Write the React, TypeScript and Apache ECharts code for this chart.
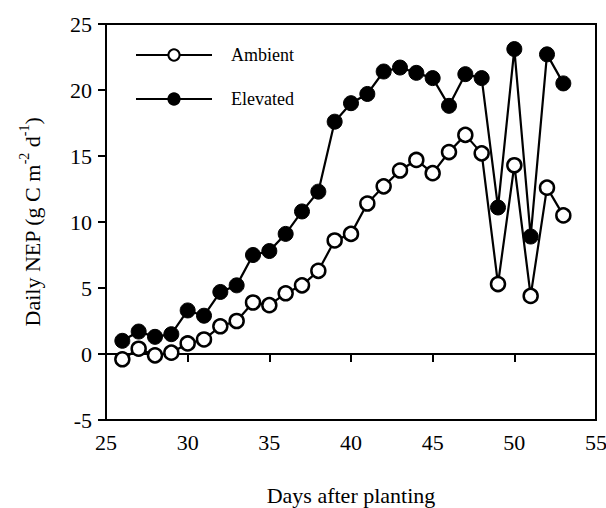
import React, { useEffect, useRef } from "react";
import * as echarts from "echarts";

const days = [26, 27, 28, 29, 30, 31, 32, 33, 34, 35, 36, 37, 38, 39, 40, 41, 42, 43, 44, 45, 46, 47, 48, 49, 50, 51, 52, 53];
const ambient = [-0.4, 0.4, -0.1, 0.1, 0.8, 1.1, 2.1, 2.5, 3.9, 3.7, 4.6, 5.2, 6.3, 8.6, 9.1, 11.4, 12.7, 13.9, 14.7, 13.7, 15.3, 16.6, 15.2, 5.3, 14.3, 4.4, 12.6, 10.5];
const elevated = [1.0, 1.7, 1.3, 1.5, 3.3, 2.9, 4.7, 5.2, 7.5, 7.8, 9.1, 10.8, 12.3, 17.6, 19.0, 19.7, 21.4, 21.7, 21.3, 20.9, 18.8, 21.2, 20.9, 11.1, 23.1, 8.9, 22.7, 20.5];
const seriesNames = ["Ambient", "Elevated"];
const xTitle = "Days after planting";

const FONT = "'Liberation Serif', 'Times New Roman', Times, serif";

export default function App() {
  const ref = useRef<HTMLDivElement>(null);
  useEffect(() => {
    if (!ref.current) return;
    const chart = echarts.init(ref.current, null, { renderer: "svg" });
    const mk = (arr: number[]) => days.map((d, i) => [d, arr[i]]);
    chart.setOption({
      animation: false,
      backgroundColor: "#fff",
      textStyle: { fontFamily: FONT },
      grid: {
        left: 106, right: 10, top: 24, bottom: 88,
        outerBoundsMode: "none",
        containLabel: false,
        show: true, borderColor: "#000", borderWidth: 2,
      },
      legend: {
        orient: "vertical",
        left: 130,
        top: 41,
        itemWidth: 76,
        itemHeight: 14,
        itemGap: 26,
        textStyle: { fontFamily: FONT, fontSize: 18, color: "#000", padding: [0, 0, 0, 14] },
        data: seriesNames,
      },
      xAxis: {
        type: "value",
        min: 25,
        max: 55,
        interval: 5,
        name: xTitle,
        nameLocation: "middle",
        nameGap: 64,
        nameTextStyle: { fontFamily: FONT, fontSize: 22, color: "#000" },
        axisLine: { lineStyle: { color: "#000", width: 2 } },
        axisTick: { lineStyle: { color: "#000", width: 2 }, length: 8 },
        axisLabel: { fontFamily: FONT, fontSize: 22, color: "#000", margin: 11 },
        splitLine: { show: false },
      },
      yAxis: {
        type: "value",
        min: -5,
        max: 25,
        interval: 5,
        name: "{a|Daily NEP (g C m}{s|-2}{a| d}{s|-1}{a|)}",
        nameLocation: "middle",
        nameGap: 63,
        nameTextStyle: {
          fontFamily: FONT,
          color: "#000",
          rich: {
            a: { fontFamily: FONT, fontSize: 22, color: "#000", lineHeight: 26, verticalAlign: "bottom" },
            s: { fontFamily: FONT, fontSize: 14, color: "#000", lineHeight: 26, verticalAlign: "top" },
          },
        },
        axisLine: { lineStyle: { color: "#000", width: 2 } },
        axisTick: { lineStyle: { color: "#000", width: 2 }, length: 8 },
        axisLabel: { fontFamily: FONT, fontSize: 22, color: "#000", margin: 14 },
        splitLine: { show: false },
      },
      series: [
        {
          name: seriesNames[0],
          type: "line",
          data: mk(ambient),
          symbol: "circle",
          symbolSize: 14,
          z: 3,
          lineStyle: { color: "#000", width: 2.2 },
          itemStyle: { color: "#fff", borderColor: "#000", borderWidth: 2.5 },
        },
        {
          name: seriesNames[1],
          type: "line",
          data: mk(elevated),
          symbol: "circle",
          symbolSize: 15,
          z: 2,
          lineStyle: { color: "#000", width: 2.2 },
          itemStyle: { color: "#000", borderColor: "#000", borderWidth: 1 },
        },
      ],
    });
    return () => chart.dispose();
  }, []);
  return <div ref={ref} style={{ position: "fixed", left: 0, top: 0, width: 606, height: 508 }} />;
}
